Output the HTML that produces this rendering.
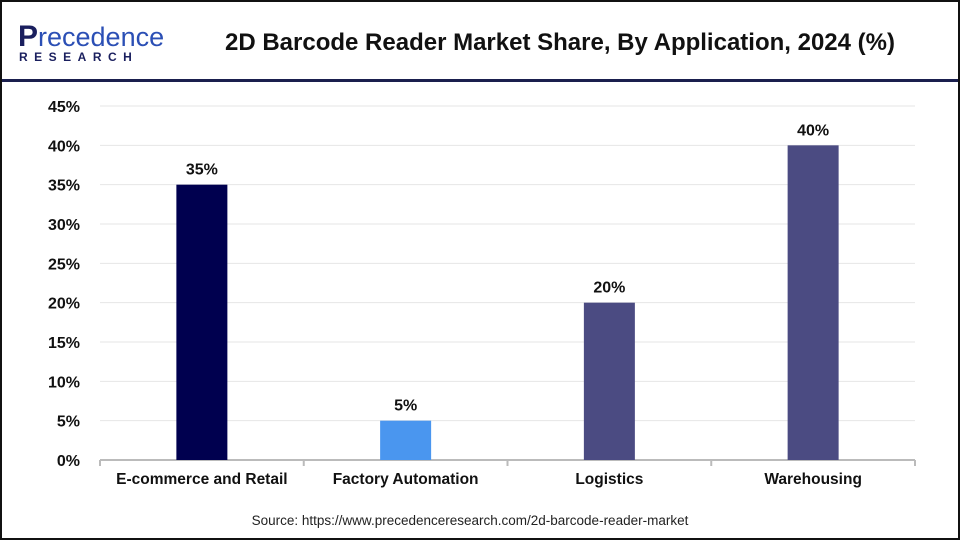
<!DOCTYPE html>
<html><head><meta charset="utf-8"><style>
body{margin:0;width:960px;height:540px;overflow:hidden;background:#fff;font-family:"Liberation Sans",sans-serif}
#frame{position:absolute;left:0;top:0;width:956px;height:536px;border:2px solid #111}
</style></head><body>
<div id="frame"></div>
<svg width="960" height="540" style="position:absolute;left:0;top:0">
<g>
<text x="18" y="46" font-size="27" fill="#1a1f5e"><tspan font-weight="bold" font-size="30">P</tspan><tspan fill="#2b4fb5">recedence</tspan></text>
<text x="19" y="61" font-size="12" font-weight="bold" fill="#1a1f5e" letter-spacing="6.5">RESEARCH</text>
</g>
<text x="560" y="50" font-size="24" font-weight="bold" text-anchor="middle" fill="#111">2D Barcode Reader Market Share, By Application, 2024 (%)</text>
<rect x="2" y="79" width="956" height="3" fill="#1a1f4e"/>
<g id="grid"></g><g id="bars"></g>
<text x="470" y="525" font-size="13.5" text-anchor="middle" fill="#222">Source: https://www.precedenceresearch.com/2d-barcode-reader-market</text>
</svg>
<script>
const categories=["E-commerce and Retail","Factory Automation","Logistics","Warehousing"];
const values=[35,5,20,40];
const colors=["#00004f","#4a96ef","#4b4b82","#4b4b82"];
const ticks=[0,5,10,15,20,25,30,35,40,45];
const x0=100,x1=915,y0=460,y45=106;
const y=v=>y0-(y0-y45)*v/45;
const bw=(x1-x0)/categories.length;
const xc=i=>x0+bw*(i+0.5);
const NS="http://www.w3.org/2000/svg";
const g=document.getElementById('grid'),b=document.getElementById('bars');
function mk(p,t,a){const e=document.createElementNS(NS,t);for(const k in a)e.setAttribute(k,a[k]);p.appendChild(e);return e;}
ticks.forEach(t=>{
 if(t>0){const l=mk(g,'line',{x1:x0,x2:x1,y1:y(t),y2:y(t),stroke:'#e6e6e6','stroke-width':1});
 
 }
 const tx=mk(g,'text',{x:80,y:y(t)+6,'font-size':16,'font-weight':'bold','text-anchor':'end',fill:'#111'});
 tx.textContent=t+'%';
 
 
});
const ax=mk(g,'line',{x1:x0,x2:x1,y1:y0,y2:y0,stroke:'#bbb','stroke-width':2});


for(let i=0;i<=categories.length;i++){const tk=mk(g,'line',{x1:x0+bw*i,x2:x0+bw*i,y1:y0,y2:y0+6,stroke:'#bbb','stroke-width':2});
 
 }
categories.forEach((c,i)=>{
 const r=mk(b,'rect',{x:xc(i)-25.5,y:y(values[i]),width:51,height:y0-y(values[i]),fill:colors[i]});
 
 
 const v=mk(b,'text',{x:xc(i),y:y(values[i])-10,'font-size':16,'font-weight':'bold','text-anchor':'middle',fill:'#111'});
 v.textContent=values[i]+'%';
 
 
 const l=mk(b,'text',{x:xc(i),y:484,'font-size':15.5,'font-weight':'bold','text-anchor':'middle',fill:'#111'});
 l.textContent=c;
 
 
});
</script>
</body></html>
